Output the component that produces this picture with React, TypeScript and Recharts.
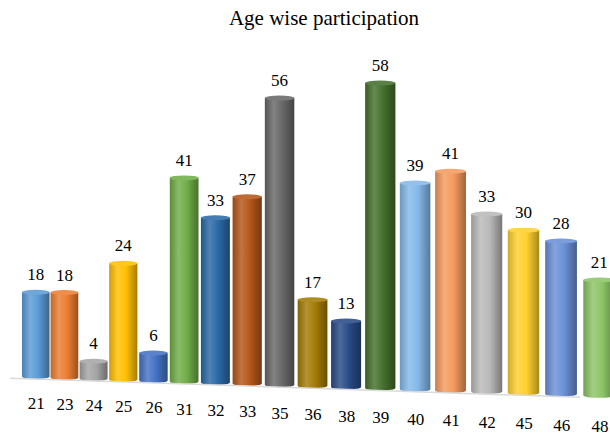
import { BarChart, Bar, XAxis, YAxis, LabelList, ReferenceLine } from 'recharts';

const ages = ['21', '23', '24', '25', '26', '31', '32', '33', '35', '36', '38', '39', '40', '41', '42', '45', '46', '48'];
const counts = [18, 18, 4, 24, 6, 41, 33, 37, 56, 17, 13, 58, 39, 41, 33, 30, 28, 21];
const barColors = [
  '#5B9BD5', '#ED7D31', '#A5A5A5', '#FFC000', '#4472C4', '#70AD47',
  '#2A69A6', '#B4561A', '#686868', '#A37B05', '#284A86', '#44702C',
  '#84B8E8', '#F49A5E', '#B9B9B9', '#FFD02E', '#6A90D6', '#8CC466',
];

const data = ages.map((age, i) => ({ age, count: counts[i] }));

const W = 610;
const H = 436;
const MARGIN = { top: 90, right: 76, bottom: 27, left: 22 };
const X_AXIS_H = 30;
const FONT = "'Liberation Serif', 'Times New Roman', serif";

// perspective: the floor tilts toward the viewer on the right
const VX = 36;
const VY = 265;
const K = 0.0002939;
const sc = (xf: number) => 1 / (1 - K * (xf - VX));
const px = (xf: number) => VX + (xf - VX) * sc(xf);
const py = (xf: number, yf: number) => VY + (yf - VY) * sc(xf);

const BASE_Y = H - MARGIN.bottom - X_AXIS_H;
const TICK_Y = BASE_Y + 29.5;

const mix = (hex: string, t: number) => {
  const n = parseInt(hex.slice(1), 16);
  const ch = [(n >> 16) & 255, (n >> 8) & 255, n & 255].map((c) =>
    Math.round(t >= 0 ? c + (255 - c) * t : c * (1 + t))
  );
  return `rgb(${ch[0]},${ch[1]},${ch[2]})`;
};

const Cylinder = (props: any) => {
  const { x, y, width, height, index } = props;
  if (height == null || width == null) return null;
  const c = barColors[index];
  const cx = x + width / 2;
  const w = width * sc(cx);
  const left = px(cx) - w / 2;
  const top = py(cx, y);
  const bottom = py(cx, y + height);
  const ry = 2.5;
  const id = `cyl-${index}`;
  return (
    <g>
      <defs>
        <linearGradient id={id} x1="0" y1="0" x2="1" y2="0">
          <stop offset="0%" stopColor={mix(c, -0.18)} />
          <stop offset="30%" stopColor={mix(c, 0.18)} />
          <stop offset="60%" stopColor={c} />
          <stop offset="100%" stopColor={mix(c, -0.35)} />
        </linearGradient>
      </defs>
      <path
        d={`M${left},${top} L${left},${bottom - ry} A${w / 2},${ry} 0 0 0 ${left + w},${bottom - ry} L${left + w},${top} Z`}
        fill={`url(#${id})`}
      />
      <ellipse cx={left + w / 2} cy={top} rx={w / 2} ry={ry} fill={mix(c, 0.12)} />
    </g>
  );
};

const textStyle = { fontFamily: FONT, fontSize: 17 };

const ValueLabel = (props: any) => {
  const { x, y, width, value } = props;
  const cx = x + width / 2;
  return (
    <text x={px(cx)} y={py(cx, y) - 12} textAnchor="middle" style={textStyle} fill="#000">
      {value}
    </text>
  );
};

const AgeTick = (props: any) => {
  const { x, payload } = props;
  return (
    <text x={px(x)} y={py(x, TICK_Y)} textAnchor="middle" style={textStyle} fill="#000">
      {payload.value}
    </text>
  );
};

const Floor = (props: any) => {
  const y1 = props.y1 ?? BASE_Y;
  const xa = (props.x1 ?? MARGIN.left) - 12;
  const xb = 505;
  return (
    <line x1={px(xa)} y1={py(xa, y1)} x2={px(xb)} y2={py(xb, y1)} stroke="#d9d9d9" strokeWidth={1.5} />
  );
};

export default function App() {
  return (
    <div style={{ position: 'absolute', left: 0, top: 0, width: W, height: H, background: '#fff' }}>
      <div
        style={{
          position: 'absolute',
          left: 0,
          top: 6,
          width: 648,
          textAlign: 'center',
          fontFamily: FONT,
          fontSize: 21,
          lineHeight: '24px',
          color: '#000',
        }}
      >
        Age wise participation
      </div>
      <BarChart width={W} height={H} data={data} margin={MARGIN} barSize={27.5}>
        <XAxis dataKey="age" height={X_AXIS_H} axisLine={false} tickLine={false} tick={<AgeTick />} interval={0} />
        <YAxis hide domain={[0, 60]} />
        <ReferenceLine y={0} shape={<Floor />} ifOverflow="visible" />
        <Bar dataKey="count" shape={<Cylinder />} isAnimationActive={false}>
          <LabelList dataKey="count" content={<ValueLabel />} />
        </Bar>
      </BarChart>
    </div>
  );
}
